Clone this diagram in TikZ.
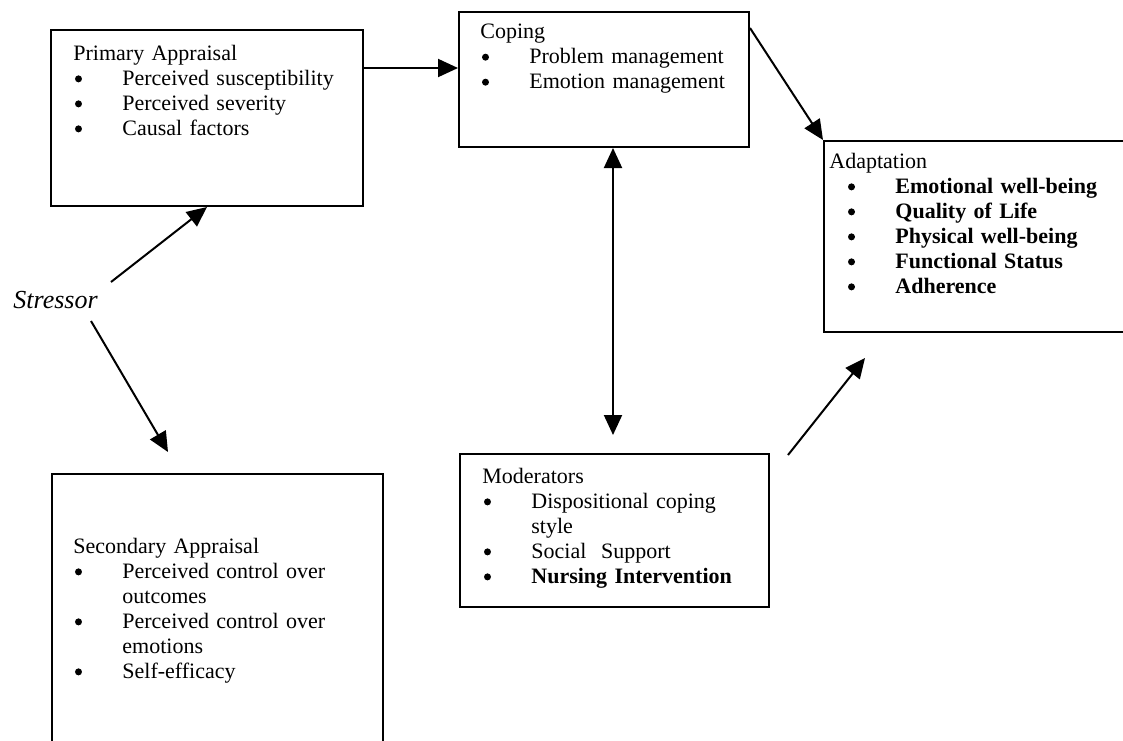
\documentclass[tikz,border=0pt]{standalone}
\usepackage{fontspec}
\setmainfont{Liberation Serif}
\usepackage{tikz}
\usetikzlibrary{arrows.meta}
\tikzstyle{box}=[draw, line width=1pt, inner sep=0pt]
\tikzstyle{txt}=[anchor=north west, inner sep=0pt, text width=200pt, align=left, font=\fontsize{11pt}{12.5pt}\selectfont]
\tikzstyle{arr}=[line width=1pt, -{Triangle[length=10pt,width=9pt]}]
\tikzstyle{arrboth}=[line width=1pt, {Triangle[length=10pt,width=9pt]}-{Triangle[length=10pt,width=9pt]}]
\newcommand{\dotmark}{\tikz[baseline=-3.4pt]\fill (0pt,0pt) circle (1.75pt);}
\newcommand{\li}[2][0pt]{\par\leftskip=#1\hangindent=24.5pt\noindent\makebox[24.5pt][l]{\hspace{0.8pt}\dotmark}#2\par}

\begin{document}
\begin{tikzpicture}[x=0.5pt, y=-0.5pt]
	\clip (0,0) rectangle (1123,740);
	\node[box, minimum width=156pt, minimum height=88pt] (prim) at (207,118) {};
	\node[box, minimum width=145pt, minimum height=67.5pt] (cop) at (604,79.5) {};
	\node[box, minimum width=158pt, minimum height=95.5pt] (adapt) at (982,236.5) {};
	\node[box, minimum width=154.5pt, minimum height=76.5pt] (mod) at (614.5,530.5) {};
	\node[box, minimum width=165.5pt, minimum height=143pt] (sec) at (217.5,617) {};
	\node[txt] (primtxt) at (73,45) {Primary Appraisal
		\li{Perceived susceptibility}
		\li{Perceived severity}
		\li{Causal factors}};
	\node[txt] (coptxt) at (480,24) {Coping
		\li{Problem management}
		\li{Emotion management}};
	\node[txt] (adapttxt) at (829,153) {Adaptation
		\li[8.5pt]{\textbf{Emotional well-being}}
		\li[8.5pt]{\textbf{Quality of Life}}
		\li[8.5pt]{\textbf{Physical well-being}}
		\li[8.5pt]{\textbf{Functional Status}}
		\li[8.5pt]{\textbf{Adherence}}};
	\node[txt] (modtxt) at (482,468) {Moderators
		\li{Dispositional coping\newline style}
		\li{Social\ \ Support}
		\li{\textbf{Nursing Intervention}}};
	\node[txt] (sectxt) at (73,538) {Secondary Appraisal
		\li{Perceived control over\newline outcomes}
		\li{Perceived control over\newline emotions}
		\li{Self-efficacy}};
	\node[anchor=base west, inner sep=0pt, font=\fontsize{13pt}{15pt}\selectfont\itshape] (stress) at (13,308) {Stressor};
	\coordinate (s1) at (111,282);
	\coordinate (s2) at (91,321);
	\coordinate (s3) at (168,452);
	\coordinate (m1) at (613,435);
	\coordinate (m2) at (788,455);
	\coordinate (m3) at (865,358);
	\draw[arr] (prim.east |- 0,68) -- (cop.west |- 0,68);
	\draw[arr] (cop.east |- 0,28) -- (adapt.north west);
	\draw[arr] (s1) -- (prim.south);
	\draw[arr] (s2) -- (s3);
	\draw[arrboth] (cop.south -| 613,0) -- (m1);
	\draw[arr] (m2) -- (m3);
\end{tikzpicture}
\end{document}
